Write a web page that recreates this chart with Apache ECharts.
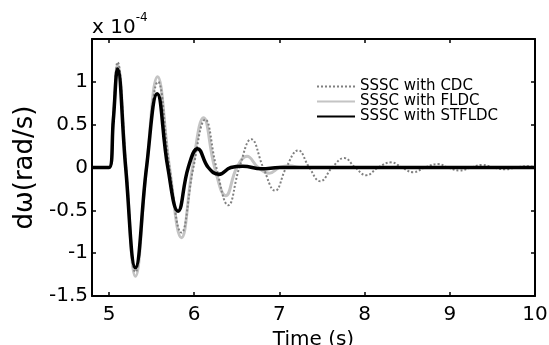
<!DOCTYPE html>
<html>
<head>
<meta charset="utf-8">
<script src="https://cdn.jsdelivr.net/npm/echarts@6/dist/echarts.min.js"></script>
<style>html,body{margin:0;padding:0;background:#fff;}#c{width:549px;height:345px;}</style>
</head>
<body>
<div id="c"></div>
<script>
// time (s), value (x 1e-4)
const cdcT = [4.8,5.0,5.05,5.1,5.2,5.31,5.44,5.575,5.71,5.85,5.99,6.13,6.26,6.40,6.53,6.67,6.81,6.95,7.08,7.22,7.35,7.48,7.62,7.76,7.89,8.02,8.16,8.31,8.44,8.57,8.71,8.86,8.98,9.11,9.25,9.38,9.51,9.65,9.78,9.92,10.0];
const cdcV = [0,0,0.6,1.23,0,-1.22,0,1.0,0,-0.76,0,0.56,0,-0.44,0,0.33,0,-0.27,0,0.2,0,-0.16,0,0.11,0,-0.09,0,0.06,0,-0.055,0,0.04,0,-0.035,0,0.03,0,-0.02,0,0.015,0.005];
const fldcT = [4.8,5.0,5.05,5.1,5.2,5.31,5.44,5.57,5.71,5.85,5.98,6.11,6.24,6.37,6.50,6.62,6.75,6.88,7.0,7.12,7.25,10.0];
const fldcV = [0,0,0.58,1.2,0,-1.27,0,1.06,0,-0.82,0,0.58,0,-0.33,0,0.13,0,-0.066,0,0.02,0,0];
const stT = [4.8,5.0,5.05,5.1,5.195,5.31,5.44,5.565,5.69,5.81,5.93,6.04,6.165,6.29,6.43,6.57,6.79,7.0,10.0];
const stV = [0,0,0.55,1.15,0,-1.17,0,0.86,0,-0.51,0,0.22,0,-0.08,0,0.015,-0.015,0,0];
const xTicks = [5,6,7,8,9,10];
const seriesNames = ['SSSC with CDC','SSSC with FLDC','SSSC with STFLDC'];

const zip = (t,v) => t.map((x,i)=>[x,v[i]]);
const font = 'DejaVu Sans, sans-serif';
const chart = echarts.init(document.getElementById('c'), null, {renderer:'canvas'});
const tickStyle = {show:true, inside:true, length:4, lineStyle:{color:'#000', width:1.5}};
chart.setOption({
  animation:false,
  backgroundColor:'#fff',
  title:{
    text:'{a|x 10}{b|-4}',
    left:87, top:7,
    textStyle:{rich:{
      a:{fontSize:20, fontFamily:font, color:'#000', fontWeight:'normal', verticalAlign:'bottom'},
      b:{fontSize:12, fontFamily:font, color:'#000', fontWeight:'normal', verticalAlign:'top', padding:[0,0,14,0]}
    }}
  },
  legend:{
    orient:'vertical', left:311, top:74,
    itemWidth:38, itemHeight:12, itemGap:0,
    data:seriesNames,
    itemStyle:{opacity:0},
    textStyle:{fontSize:15, fontFamily:font, color:'#000'}
  },
  grid:{left:92, right:14, top:39, bottom:49, show:false, outerBoundsMode:'none', containLabel:false},
  xAxis:[{
    type:'value', min:4.8, max:10, position:'bottom',
    axisLine:{show:true, onZero:false, lineStyle:{color:'#000', width:2}},
    axisTick:Object.assign({customValues:xTicks}, tickStyle),
    axisLabel:{customValues:xTicks, fontSize:20, fontFamily:font, color:'#000', margin:9},
    splitLine:{show:false},
    name:'Time (s)', nameLocation:'middle', nameGap:27,
    nameTextStyle:{fontSize:20, fontFamily:font, color:'#000'}
  },{
    type:'value', min:4.8, max:10, position:'top',
    axisLine:{show:true, onZero:false, lineStyle:{color:'#000', width:2}},
    axisTick:Object.assign({customValues:xTicks}, tickStyle),
    axisLabel:{show:false}, splitLine:{show:false}
  }],
  yAxis:[{
    type:'value', min:-1.5, max:1.5, interval:0.5, position:'left',
    axisLine:{show:true, onZero:false, lineStyle:{color:'#000', width:2}},
    axisTick:tickStyle,
    axisLabel:{fontSize:20, fontFamily:font, color:'#000', margin:4,
      formatter:v => v===1.5 ? '' : String(v)},
    splitLine:{show:false},
    name:'d\u03c9(rad/s)', nameLocation:'middle', nameGap:51, nameRotate:90,
    nameTextStyle:{fontSize:26, fontFamily:font, color:'#000'}
  },{
    type:'value', min:-1.5, max:1.5, interval:0.5, position:'right',
    axisLine:{show:true, onZero:false, lineStyle:{color:'#000', width:2}},
    axisTick:tickStyle, axisLabel:{show:false}, splitLine:{show:false}
  }],
  series:[
    {name:seriesNames[1], type:'line', data:zip(fldcT,fldcV), showSymbol:false, symbol:'none', smooth:0.45,
      lineStyle:{color:'#c4c4c4', width:3}, itemStyle:{color:'#c4c4c4'}, z:2},
    {name:seriesNames[0], type:'line', data:zip(cdcT,cdcV), showSymbol:false, symbol:'none', smooth:0.45,
      lineStyle:{color:'#808080', width:2, type:[2,2]}, itemStyle:{color:'#808080'}, z:3},
    {name:seriesNames[2], type:'line', data:zip(stT,stV), showSymbol:false, symbol:'none', smooth:0.45,
      lineStyle:{color:'#000', width:3.5}, itemStyle:{color:'#000'}, z:4}
  ]
});
</script>
</body>
</html>
